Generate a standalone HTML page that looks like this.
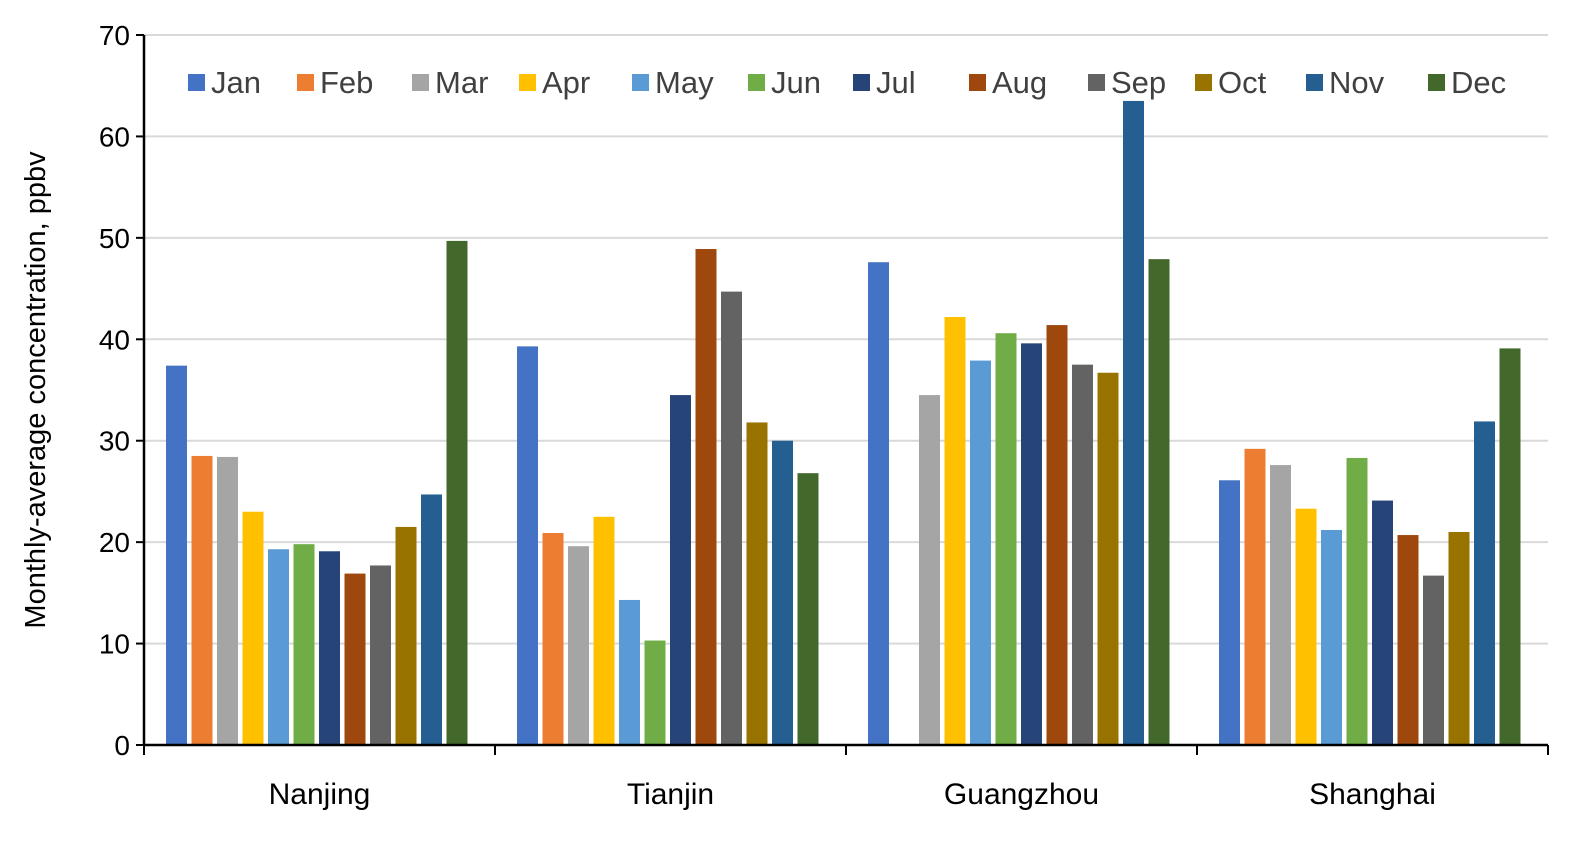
<!DOCTYPE html>
<html><head><meta charset="utf-8"><style>
html,body{margin:0;padding:0;background:#fff;}
svg{display:block;font-family:"Liberation Sans",sans-serif;}
</style></head><body>
<svg id="chart" width="1580" height="842" viewBox="0 0 1580 842"></svg>
<script>
const cities = ["Nanjing","Tianjin","Guangzhou","Shanghai"];
const months = ["Jan","Feb","Mar","Apr","May","Jun","Jul","Aug","Sep","Oct","Nov","Dec"];
const colors = ["#4472C4","#ED7D31","#A5A5A5","#FFC000","#5B9BD5","#70AD47","#264478","#9E480E","#636363","#997300","#255E91","#43682B"];
const nanjing = [37.4,28.5,28.4,23.0,19.3,19.8,19.1,16.9,17.7,21.5,24.7,49.7];
const tianjin = [39.3,20.9,19.6,22.5,14.3,10.3,34.5,48.9,44.7,31.8,30.0,26.8];
const guangzhou = [47.6,0,34.5,42.2,37.9,40.6,39.6,41.4,37.5,36.7,63.5,47.9];
const shanghai = [26.1,29.2,27.6,23.3,21.2,28.3,24.1,20.7,16.7,21.0,31.9,39.1];
const yTicks = [0,10,20,30,40,50,60,70];
const legendX = [188,297,412,519,632,748,853,969,1088,1195,1306,1428];

const series = [nanjing,tianjin,guangzhou,shanghai];
const svg = document.getElementById('chart');
const NS = 'http://www.w3.org/2000/svg';
const x0 = 144, x1 = 1548, yBase = 745, yTop = 35, yMax = 70;
const y = v => yBase - (v / yMax) * (yBase - yTop);
const groupW = (x1 - x0) / cities.length;
const step = 25.5, barW = 21, offset = 22;
const xBar = (g, m) => x0 + g * groupW + offset + m * step;
function mk(tag, attrs){const e=document.createElementNS(NS,tag);for(const k in attrs)e.setAttribute(k,attrs[k]);svg.appendChild(e);return e;}

yTicks.forEach(t=>{
  if(t>0){const l=mk('line',{x1:x0,x2:x1,y1:y(t),y2:y(t),stroke:'#d9d9d9','stroke-width':2});
  
  }
  const tx=mk('text',{x:x0-14,y:y(t)+10,'text-anchor':'end','font-size':28,fill:'#000'});
  tx.textContent=t;
  
  
  const tk=mk('line',{x1:x0-8,x2:x0,y1:y(t),y2:y(t),stroke:'#000','stroke-width':2});
  
  
});

series.forEach((vals,g)=>{
  vals.forEach((v,m)=>{
    if(v<=0) return;
    const r=mk('rect',{x:xBar(g,m),y:y(v),width:barW,height:yBase-y(v),fill:colors[m]});
    
    
  });
  const lab=mk('text',{x:x0+g*groupW+groupW/2,y:804,'text-anchor':'middle','font-size':30,fill:'#000'});
  lab.textContent=cities[g];
  
  
});
for(let g=0; g<=cities.length; g++){
  const t=mk('line',{x1:x0+g*groupW,x2:x0+g*groupW,y1:yBase,y2:yBase+10,stroke:'#000','stroke-width':2});
  
  
}
const ax=mk('line',{x1:x0,x2:x1,y1:yBase,y2:yBase,stroke:'#000','stroke-width':2.5});


const ay=mk('line',{x1:x0,x2:x0,y1:yTop,y2:yBase,stroke:'#000','stroke-width':2.5});



months.forEach((mo,i)=>{
  const r=mk('rect',{x:legendX[i],y:74,width:17,height:17,fill:colors[i]});
  
  
  const t=mk('text',{x:legendX[i]+23,y:93,'font-size':31,fill:'#404040'});
  t.textContent=mo;
  
  
});

const yt=mk('text',{x:0,y:0,'text-anchor':'middle','font-size':29,fill:'#000',transform:'translate(45,390) rotate(-90)'});
yt.textContent='Monthly-average concentration, ppbv';


</script>
</body></html>
